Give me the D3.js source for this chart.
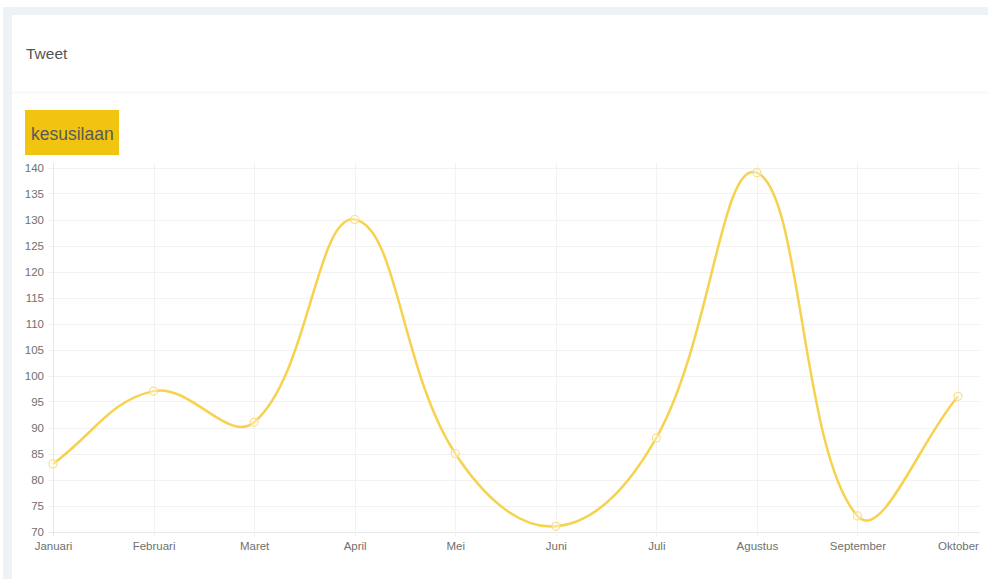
<!DOCTYPE html>
<html><head><meta charset="utf-8">
<script src="https://cdn.jsdelivr.net/npm/d3@7"></script>
<style>
html,body{margin:0;padding:0;background:#fff;}
svg{display:block;font-family:"Liberation Sans",Arial,Helvetica,sans-serif;}
</style></head>
<body>
<svg id="c" width="988" height="579"></svg>
<script>
const months = ["Januari","Februari","Maret","April","Mei","Juni","Juli","Agustus","September","Oktober"];
const values = [83, 97, 91, 130, 85, 71, 88, 139, 73, 96];
const yTicks = [70,75,80,85,90,95,100,105,110,115,120,125,130,135,140];
const title = "Tweet";
const seriesLabel = "kesusilaan";

(function(){
const svg = d3.select("#c");
// card background
svg.append("rect").attr("x",3).attr("y",7).attr("width",985).attr("height",572).attr("fill","#eef2f6");
svg.append("rect").attr("x",12).attr("y",15).attr("width",976).attr("height",564).attr("fill","#ffffff");
svg.append("line").attr("x1",12).attr("x2",988).attr("y1",92.5).attr("y2",92.5).attr("stroke","#f6f7f9").attr("stroke-width",2);
svg.append("text").attr("x",26).attr("y",59).attr("font-size",15.5).attr("fill","#555").text(title);
svg.append("rect").attr("x",25).attr("y",110).attr("width",94).attr("height",45).attr("fill","#f1c40f");
svg.append("text").attr("x",31).attr("y",140).attr("font-size",17.5).attr("fill","#5a5a5a").text(seriesLabel);

const pLeft = 53, pRight = 958, pTop = 167.5, pBottom = 531.5;
const x = d3.scalePoint().domain(months).range([pLeft, pRight]);
const y = d3.scaleLinear().domain([70, 140]).range([pBottom, pTop]);

const grid = svg.append("g");
grid.selectAll("line.h").data(yTicks).join("line")
  .attr("x1", pLeft - 5).attr("x2", 980)
  .attr("y1", d => Math.round(y(d)) + 0.5).attr("y2", d => Math.round(y(d)) + 0.5)
  .attr("stroke", d => d === 70 ? "#e8e8e8" : "#f2f2f2").attr("stroke-width", 1);
grid.selectAll("line.v").data(months).join("line")
  .attr("x1", d => Math.round(x(d)) + 0.5).attr("x2", d => Math.round(x(d)) + 0.5)
  .attr("y1", pTop - 5).attr("y2", pBottom + 5)
  .attr("stroke", (d,i) => i === 0 ? "#e8e8e8" : "#f2f2f2").attr("stroke-width", 1);

const yAxis = d3.axisLeft(y).tickValues(yTicks).tickSize(0).tickPadding(9);
const gy = svg.append("g").attr("transform", `translate(${pLeft},0)`).call(yAxis);
gy.select(".domain").remove();
gy.selectAll("text").attr("font-size", 11.5).attr("fill", "#707070").attr("font-family", "Liberation Sans, Arial, sans-serif");

const xAxis = d3.axisBottom(x).tickSize(0).tickPadding(10);
const gx = svg.append("g").attr("transform", `translate(0,${pBottom})`).call(xAxis);
gx.select(".domain").remove();
gx.selectAll("text").attr("font-size", 11.5).attr("fill", "#707070").attr("font-family", "Liberation Sans, Arial, sans-serif");

// Chart.js-style spline (tension 0.4)
const pts = values.map((v,i) => [x(months[i]), y(v)]);
const t = 0.4;
const cps = pts.map((p,i) => {
  const prev = pts[i-1] || p, next = pts[i+1] || p;
  const d01 = Math.hypot(p[0]-prev[0], p[1]-prev[1]);
  const d12 = Math.hypot(next[0]-p[0], next[1]-p[1]);
  let s01 = d01/(d01+d12), s12 = d12/(d01+d12);
  if (isNaN(s01)) s01 = 0; if (isNaN(s12)) s12 = 0;
  const fa = t*s01, fb = t*s12;
  return {
    prev: [p[0] - fa*(next[0]-prev[0]), p[1] - fa*(next[1]-prev[1])],
    next: [p[0] + fb*(next[0]-prev[0]), p[1] + fb*(next[1]-prev[1])]
  };
});
const path = d3.path();
path.moveTo(pts[0][0], pts[0][1]);
for (let i = 1; i < pts.length; i++) {
  path.bezierCurveTo(cps[i-1].next[0], cps[i-1].next[1], cps[i].prev[0], cps[i].prev[1], pts[i][0], pts[i][1]);
}
svg.append("path").attr("d", path.toString()).attr("fill","none")
  .attr("stroke","#f6d24e").attr("stroke-width",2.5);

svg.selectAll("circle.pt").data(values).join("circle")
  .attr("cx", (d,i) => x(months[i])).attr("cy", d => y(d)).attr("r", 4)
  .attr("fill", "rgba(255,255,255,0.4)").attr("stroke", "#f8df8a").attr("stroke-width", 1.2);
})();
</script>
</body></html>
